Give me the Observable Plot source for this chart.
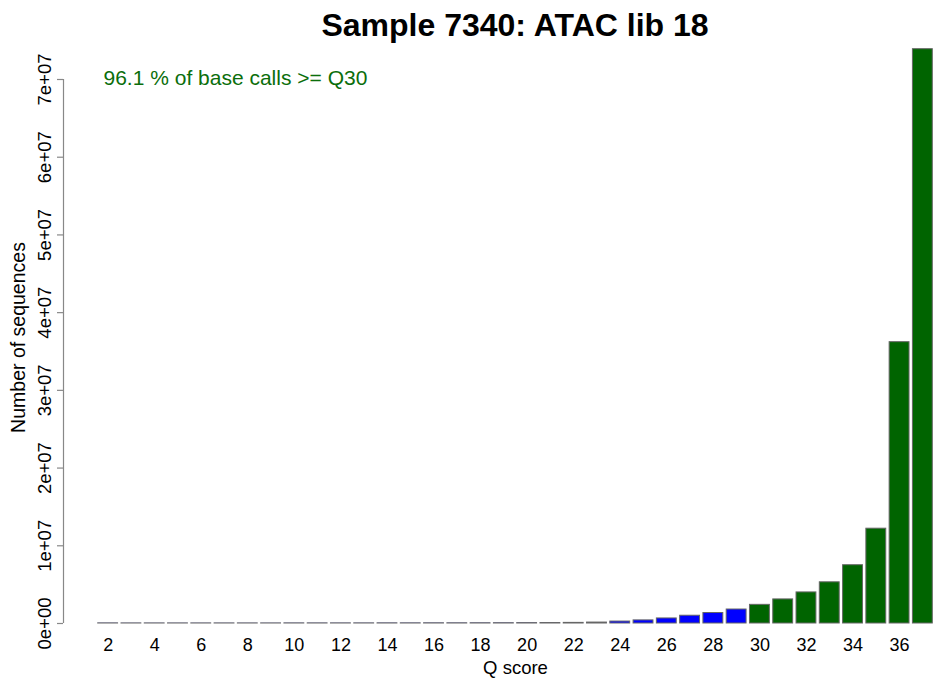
<!DOCTYPE html>
<html>
<head>
<meta charset="utf-8">
<script src="https://cdn.jsdelivr.net/npm/d3@7"></script>
<script src="https://cdn.jsdelivr.net/npm/@observablehq/plot@0.6"></script>
<style>
  html, body { margin: 0; padding: 0; background: #fff; }
  #title { height: 48px; width: 934px; font-family: "Liberation Sans", Arial, sans-serif; font-weight: bold; font-size: 32px; line-height: 50px; text-align: left; color: #000; position: relative; }
  #title span { position: absolute; left: 515px; transform: translateX(-50%); white-space: nowrap; }
</style>
</head>
<body>
<div id="title"><span>Sample 7340: ATAC lib 18</span></div>
<div id="chart"></div>
<script>
const qScores = [2,3,4,5,6,7,8,9,10,11,12,13,14,15,16,17,18,19,20,21,22,23,24,25,26,27,28,29,30,31,32,33,34,35,36,37];
const counts = [
  20000, 15000, 15000, 15000, 15000, 15000, 15000, 15000, 20000, 20000,
  20000, 20000, 25000, 25000, 30000, 30000, 35000, 40000, 50000, 60000,
  80000, 120000, 250000, 400000, 650000, 1000000, 1350000, 1800000, 2400000, 3100000,
  4000000, 5300000, 7500000, 12200000, 36200000, 73900000
];
const xTicks = [2,4,6,8,10,12,14,16,18,20,22,24,26,28,30,32,34,36];
const yTicks = [0,1e7,2e7,3e7,4e7,5e7,6e7,7e7];
const yTickLabels = ["0e+00","1e+07","2e+07","3e+07","4e+07","5e+07","6e+07","7e+07"];
const annotation = "96.1 % of base calls >= Q30";

const data = qScores.map((q, i) => ({q, v: counts[i], color: q >= 30 ? "#006400" : "#0000ff"}));
const font = "'Liberation Sans', Arial, sans-serif";

const chart = Plot.plot({
  width: 934,
  height: 635,
  marginLeft: 96,
  marginRight: 0,
  marginTop: 31,
  marginBottom: 60,
  style: {fontFamily: font, background: "#fff", overflow: "visible"},
  x: {type: "linear", domain: [1.5, 37.5], axis: null},
  y: {domain: [0, 7e7], axis: null},
  marks: [
    Plot.rectY(data, {x1: d => d.q - 0.5, x2: d => d.q + 0.5, y1: 0, y2: "v", fill: "color", stroke: "#666", strokeWidth: 1, insetLeft: 1.7, insetRight: 1.7}),
    Plot.ruleX([1.5], {y1: 0, y2: 7e7, dx: -33, stroke: "#888", strokeWidth: 1.2}),
    Plot.axisY({ticks: yTicks, tickSize: 6, tickFormat: () => "", label: null, dx: -33, stroke: "#888", strokeWidth: 1.2}),
    Plot.text(yTicks, {y: d => d, text: (d, i) => yTickLabels[i], frameAnchor: "left", dx: -51, rotate: -90, textAnchor: "middle", lineAnchor: "middle", fontSize: 18.5, fill: "#000"}),
    Plot.text(["Number of sequences"], {frameAnchor: "left", dx: -78, dy: -14, rotate: -90, textAnchor: "middle", lineAnchor: "middle", fontSize: 19.5, fill: "#000"}),
    Plot.text(xTicks, {x: d => d, text: d => String(d), frameAnchor: "bottom", dy: 22, lineAnchor: "middle", fontSize: 18, fill: "#000"}),
    Plot.text(["Q score"], {frameAnchor: "bottom", dy: 45, lineAnchor: "middle", fontSize: 18.5, fill: "#000"}),
    Plot.text([annotation], {frameAnchor: "top-left", dx: 7, dy: -1, textAnchor: "start", lineAnchor: "middle", fontSize: 21, fill: "#0b6e0b"})
  ]
});
document.getElementById("chart").appendChild(chart);
</script>
</body>
</html>
